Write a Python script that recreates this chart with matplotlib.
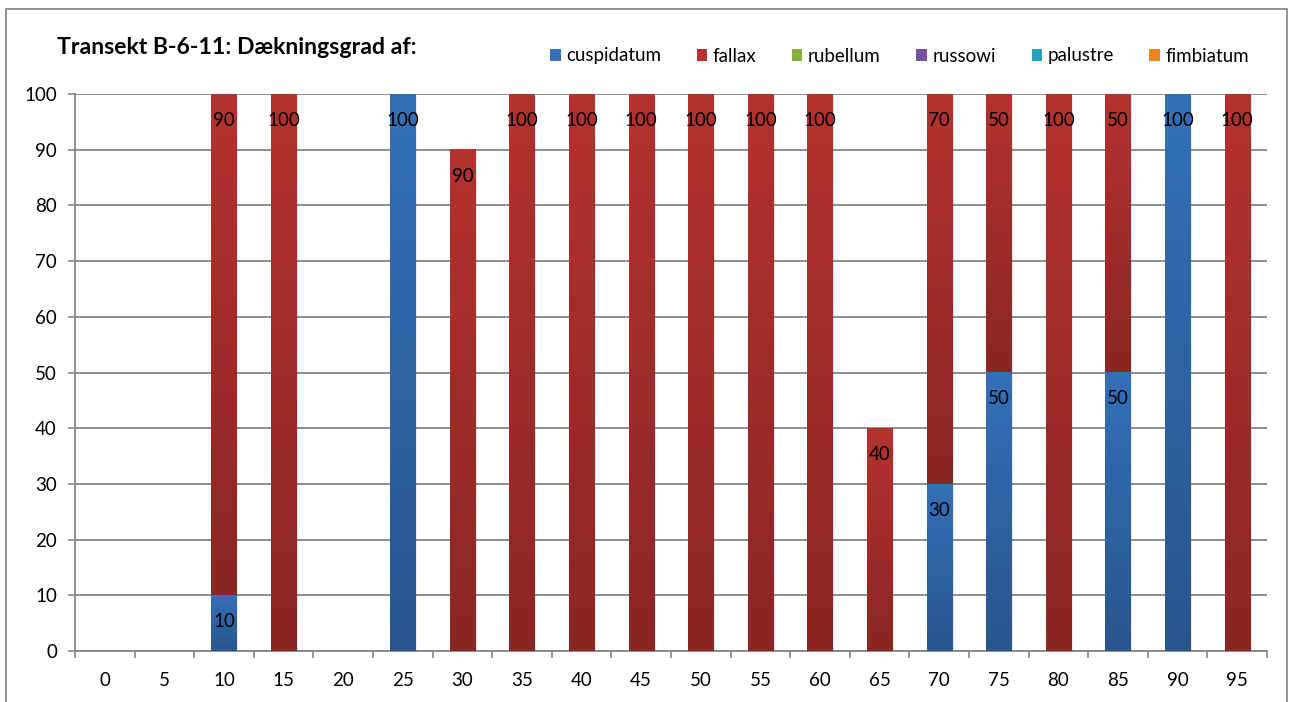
import numpy as np
import matplotlib
import matplotlib.pyplot as plt
from matplotlib.patches import Rectangle, Patch
from matplotlib.colors import LinearSegmentedColormap

matplotlib.use('Agg')

plt.rcParams['font.family'] = ['Lato', 'DejaVu Sans']

positions = [0, 5, 10, 15, 20, 25, 30, 35, 40, 45, 50, 55, 60, 65, 70, 75, 80, 85, 90, 95]
cuspidatum = [0, 0, 10, 0, 0, 100, 0, 0, 0, 0, 0, 0, 0, 0, 30, 50, 0, 50, 100, 0]
fallax = [0, 0, 90, 100, 0, 0, 90, 100, 100, 100, 100, 100, 100, 40, 70, 50, 100, 50, 0, 100]
rubellum = [0] * 20
russowi = [0] * 20
palustre = [0] * 20
fimbiatum = [0] * 20

series_names = ['cuspidatum', 'fallax', 'rubellum', 'russowi', 'palustre', 'fimbiatum']
series_values = [cuspidatum, fallax, rubellum, russowi, palustre, fimbiatum]
# (top colour, bottom colour) for the vertical gradient
series_colors = [('#3470B8', '#28558C'), ('#B4322F', '#8A2624'),
                 ('#86B03C', '#66902A'), ('#7452A0', '#573B7C'),
                 ('#2E9EBE', '#237C96'), ('#F08426', '#C8661A')]

fig = plt.figure(figsize=(12.92, 7.02), dpi=100)
ax = fig.add_axes([75 / 1292, 1 - 651 / 702, (1267 - 75) / 1292, (651 - 94) / 702])

x = np.arange(len(positions))
width = 0.42
bottom = np.zeros(len(positions))
grad = np.linspace(1, 0, 256).reshape(-1, 1)

for name, vals, (ctop, cbot) in zip(series_names, series_values, series_colors):
    vals = np.array(vals, dtype=float)
    cmap = LinearSegmentedColormap.from_list(name, [cbot, ctop])
    for i, v in enumerate(vals):
        if v <= 0:
            continue
        y0 = bottom[i]
        y1 = y0 + v
        x0 = x[i] - width / 2
        # soft shadow
        ax.add_patch(Rectangle((x0 + 0.03, y0 - 0.4), width, v, facecolor='#000000',
                               alpha=0.08, edgecolor='none', zorder=2))
        ax.imshow(grad, cmap=cmap, aspect='auto', extent=(x0, x0 + width, y0, y1),
                  origin='upper', zorder=3, interpolation='bilinear')
        ax.annotate(f'{int(v)}', xy=(x[i], y1), xytext=(0, -19), textcoords='offset points',
                    ha='center', va='center', fontsize=13.5, color='black', zorder=5)
    bottom += vals

ax.set_xlim(-0.5, len(positions) - 0.5)
ax.set_ylim(0, 100)
ax.set_yticks(range(0, 101, 10))
ax.set_xticks(x)
ax.set_xticklabels([str(p) for p in positions])
ax.set_xticks(np.arange(-0.5, len(positions), 1), minor=True)
ax.tick_params(axis='x', which='major', length=0, pad=15, labelsize=13.5)
ax.tick_params(axis='x', which='minor', length=5, color='#868686', width=1.2)
ax.tick_params(axis='y', length=5, color='#868686', width=1.2, pad=8, labelsize=13.5)
ax.grid(axis='y', color='#868686', linewidth=1.3, zorder=0)
ax.set_axisbelow(True)
for s in ['top', 'right']:
    ax.spines[s].set_visible(False)
for s in ['left', 'bottom']:
    ax.spines[s].set_color('#868686')
    ax.spines[s].set_linewidth(1.3)

handles = [Patch(facecolor=c[0], edgecolor='none') for c in series_colors]
fig.legend(handles, series_names, loc='center right', bbox_to_anchor=(1249 / 1292, 1 - 56 / 702),
           ncol=6, frameon=False, fontsize=13.5, handlelength=0.55, handleheight=0.55,
           handletextpad=0.3, columnspacing=1.9, borderaxespad=0, borderpad=0)

fig.text(57 / 1292, 1 - 47 / 702, 'Transekt B-6-11: Dækningsgrad af:', fontsize=16.6,
         fontweight='bold', va='center', ha='left')

fig.patches.append(Rectangle((6 / 1292, -0.01), (1287 - 6) / 1292, 1 - 9 / 702 + 0.01,
                             transform=fig.transFigure, fill=False, edgecolor='#7f7f7f',
                             linewidth=1.2))

fig.savefig('out.png', dpi=100)
plt.close(fig)
